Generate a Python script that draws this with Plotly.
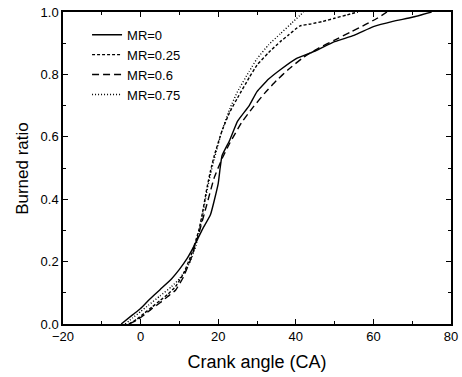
import plotly.graph_objects as go

# Data
x_mr0 = [-5, -2, 0, 2, 5, 8, 10, 12, 14, 16, 18, 20, 20.5, 21, 23, 25, 28, 30, 33, 36, 40, 45, 50, 55, 60, 65, 70, 75]
y_mr0 = [0, 0.03, 0.05, 0.075, 0.11, 0.145, 0.175, 0.21, 0.255, 0.305, 0.35, 0.45, 0.5, 0.54, 0.59, 0.65, 0.70, 0.745, 0.785, 0.815, 0.85, 0.875, 0.905, 0.925, 0.953, 0.97, 0.983, 1.0]

x_mr025 = [-3, -1, 1, 3, 5, 7, 9, 11, 13, 15, 16, 17, 18, 19, 21, 23, 25, 28, 30, 33, 36, 38, 41, 44, 47, 50, 53, 56]
y_mr025 = [0, 0.015, 0.035, 0.055, 0.075, 0.095, 0.12, 0.16, 0.22, 0.3, 0.36, 0.43, 0.49, 0.54, 0.62, 0.68, 0.725, 0.79, 0.83, 0.87, 0.905, 0.925, 0.955, 0.962, 0.97, 0.98, 0.99, 1.0]

x_mr06 = [-3, -1, 1, 3, 5, 7, 9, 11, 13, 15, 17, 19, 21, 23, 26, 29, 32, 35, 38, 42, 46, 50, 54, 58, 61, 63.5]
y_mr06 = [0, 0.012, 0.03, 0.05, 0.068, 0.088, 0.108, 0.15, 0.21, 0.29, 0.38, 0.47, 0.53, 0.58, 0.645, 0.695, 0.74, 0.78, 0.815, 0.855, 0.885, 0.91, 0.935, 0.96, 0.98, 1.0]

x_mr075 = [-4, -2, 0, 2, 5, 8, 10, 12, 14, 15, 16, 17, 18, 19, 21, 23, 25, 28, 30, 33, 36, 39, 42]
y_mr075 = [0, 0.02, 0.04, 0.06, 0.09, 0.12, 0.145, 0.18, 0.24, 0.29, 0.35, 0.42, 0.48, 0.53, 0.62, 0.69, 0.745, 0.81, 0.85, 0.895, 0.93, 0.965, 1.0]

x_ticks = [-20, 0, 20, 40, 60, 80]
y_ticks = [0.0, 0.2, 0.4, 0.6, 0.8, 1.0]

series = [
    ("MR=0", x_mr0, y_mr0, "solid"),
    ("MR=0.25", x_mr025, y_mr025, "3px,2px"),
    ("MR=0.6", x_mr06, y_mr06, "7px,4px"),
    ("MR=0.75", x_mr075, y_mr075, "1px,2px"),
]

FONT = "Liberation Sans, Arial, sans-serif"

fig = go.Figure()
for name, xs, ys, dash in series:
    fig.add_trace(go.Scatter(x=xs, y=ys, mode="lines", name=name,
                             line=dict(color="black", width=1.4, dash=dash, shape="spline", smoothing=0.4)))

axis_common = dict(
    showline=True, linecolor="black", linewidth=1.5, mirror="allticks",
    ticks="inside", ticklen=5, tickwidth=1, tickcolor="black",
    showgrid=False, zeroline=False,
    tickfont=dict(family=FONT, size=13, color="black"),
)

fig.update_xaxes(range=[-20, 80], tickvals=x_ticks,
                 minor=dict(dtick=10, ticks="inside", ticklen=3, tickcolor="black", showgrid=False),
                 title=dict(text="Crank angle (CA)", font=dict(family=FONT, size=18, color="black"), standoff=12),
                 **axis_common)
fig.update_yaxes(range=[0, 1.0], tickvals=y_ticks, tickformat=".1f",
                 minor=dict(dtick=0.1, ticks="inside", ticklen=3, tickcolor="black", showgrid=False),
                 **axis_common)

fig.add_annotation(text="Burned ratio", textangle=-90, xref="paper", yref="paper",
                   x=-0.106, y=0.5, xanchor="center", yanchor="middle", showarrow=False,
                   font=dict(family=FONT, size=17, color="black"))

fig.update_layout(
    width=462, height=377,
    margin=dict(l=63, r=11, t=12, b=53, autoexpand=False),
    paper_bgcolor="white", plot_bgcolor="white",
    showlegend=True,
    legend=dict(x=0.062, y=0.975, xanchor="left", yanchor="top",
                bgcolor="rgba(0,0,0,0)", tracegroupgap=0,
                font=dict(family=FONT, size=13, color="black"),
                itemwidth=30),
)

# remove the default page margin so the figure sits at the window's corner
fig.write_html("out.html", config={"displayModeBar": False},
               post_script="document.body.style.margin='0';")
